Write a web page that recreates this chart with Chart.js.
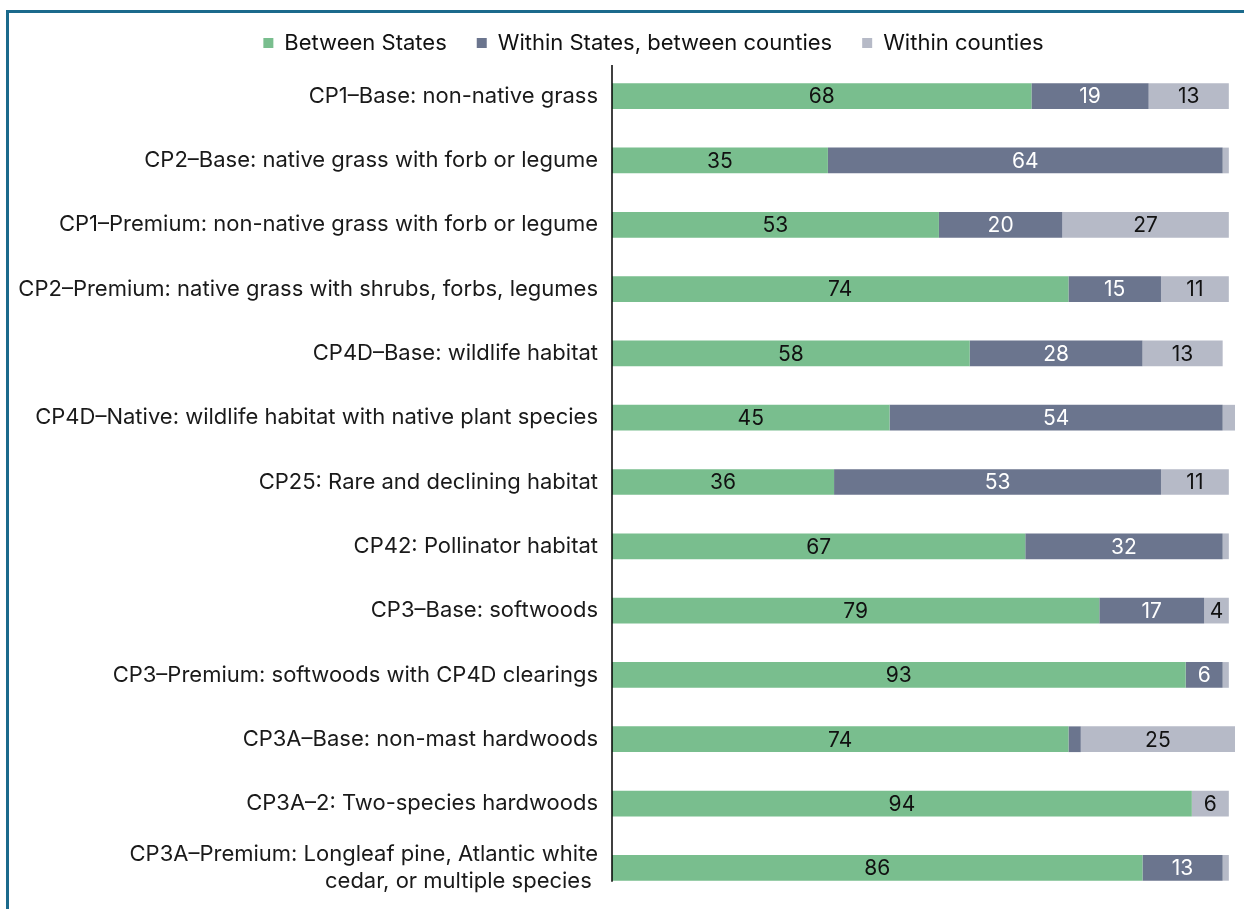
<!DOCTYPE html>
<html>
<head>
<meta charset="utf-8">
<script src="https://cdn.jsdelivr.net/npm/chart.js@4.4.0/dist/chart.umd.min.js"></script>
<style>
  html, body { margin: 0; padding: 0; background: #fff; }
  #wrap { position: relative; width: 1244px; height: 909px; overflow: hidden; }
  #frame { position: absolute; left: 6px; top: 10px; width: 1300px; height: 1000px;
           border-top: 3px solid #1b6a8c; border-left: 3px solid #1b6a8c; box-sizing: border-box; }
  #c { position: absolute; left: 0; top: 0; }
</style>
</head>
<body>
<div id="wrap">
  <div id="frame"></div>
  <canvas id="c" width="1244" height="909"></canvas>
</div>
<script>
const categories = [
  "CP1–Base: non-native grass",
  "CP2–Base: native grass with forb or legume",
  "CP1–Premium: non-native grass with forb or legume",
  "CP2–Premium: native grass with shrubs, forbs, legumes",
  "CP4D–Base: wildlife habitat",
  "CP4D–Native: wildlife habitat with native plant species",
  "CP25: Rare and declining habitat",
  "CP42: Pollinator habitat",
  "CP3–Base: softwoods",
  "CP3–Premium: softwoods with CP4D clearings",
  "CP3A–Base: non-mast hardwoods",
  "CP3A–2: Two-species hardwoods",
  ["CP3A–Premium: Longleaf pine, Atlantic white", "cedar, or multiple species "]
];
const seriesNames = ["Between States", "Within States, between counties", "Within counties"];
const betweenStates   = [68, 35, 53, 74, 58, 45, 36, 67, 79, 93, 74, 94, 86];
const withinStates    = [19, 64, 20, 15, 28, 54, 53, 32, 17, 6, 2, 0, 13];
const withinCounties  = [13, 1, 27, 11, 13, 2, 11, 1, 4, 1, 25, 6, 1];
const seriesColors = ["#79be8e", "#6b758e", "#b6bac7"];
const labelColors  = ["#111111", "#ffffff", "#111111"];
const FONT = "Inter";
const FS = 22;
const VFS = 21;

const valueLabels = {
  id: "valueLabels",
  afterDatasetsDraw(chart) {
    const ctx = chart.ctx;
    ctx.save();
    ctx.font = VFS + "px " + FONT;
    ctx.textAlign = "center";
    ctx.textBaseline = "middle";
    chart.data.datasets.forEach((ds, di) => {
      const meta = chart.getDatasetMeta(di);
      meta.data.forEach((el, i) => {
        const v = ds.data[i];
        if (v < 4) return;
        ctx.fillStyle = labelColors[di];
        ctx.fillText(String(v), (el.x + el.base) / 2, el.y + 1);
      });
    });
    ctx.restore();
  }
};

const axisLine = {
  id: "axisLine",
  afterDatasetsDraw(chart) {
    const ctx = chart.ctx;
    const ys = chart.scales.y;
    const xs = chart.scales.x;
    const x0 = xs.getPixelForValue(0);
    const yEnd = ys.getPixelForValue(categories.length - 1) + 14;
    ctx.save();
    ctx.strokeStyle = "#000";
    ctx.lineWidth = 1.5;
    ctx.beginPath();
    ctx.moveTo(x0, chart.chartArea.top + 1);
    ctx.lineTo(x0, yEnd);
    ctx.stroke();
    ctx.restore();
  }
};

const legendShift = {
  id: "legendShift",
  afterLayout(chart) {
    if (chart.legend) { chart.legend.left += 72; }
  }
};

new Chart(document.getElementById("c"), {
  type: "bar",
  data: {
    labels: categories,
    datasets: [
      { label: seriesNames[0], data: betweenStates,  backgroundColor: seriesColors[0] },
      { label: seriesNames[1], data: withinStates,   backgroundColor: seriesColors[1] },
      { label: seriesNames[2], data: withinCounties, backgroundColor: seriesColors[2] }
    ]
  },
  options: {
    indexAxis: "y",
    responsive: false,
    animation: false,
    datasets: { bar: { categoryPercentage: 1, barPercentage: 0.4, borderWidth: 0 } },
    layout: { padding: { top: 2, left: 0, right: 9, bottom: 9 } },
    scales: {
      x: { stacked: true, min: 0, max: 101, display: false },
      y: {
        stacked: true,
        grid: { display: false },
        border: { display: false },
        ticks: { color: "#1a1a1a", font: { family: FONT, size: FS }, padding: 6, autoSkip: false },
        afterFit(scale) { scale.width = 612; scale.paddingTop = 0; scale.paddingBottom = 0; }
      }
    },
    plugins: {
      legend: {
        position: "top",
        labels: {
          boxWidth: 10, boxHeight: 10, padding: 30,
          color: "#111", font: { family: FONT, size: FS }
        }
      },
      tooltip: { enabled: false }
    }
  },
  plugins: [valueLabels, axisLine, legendShift]
});
</script>
</body>
</html>
